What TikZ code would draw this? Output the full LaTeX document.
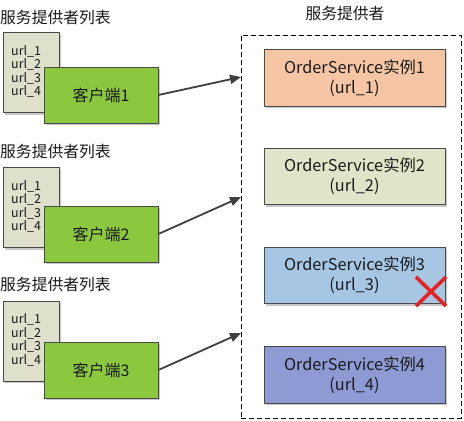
\documentclass[tikz,border=0pt]{standalone}
\usepackage{fontspec}
\setmainfont{Noto Sans CJK SC}
\usetikzlibrary{arrows.meta,shadows}
\definecolor{bordergray}{HTML}{4A4A4A}
\definecolor{listfill}{HTML}{DFE0CC}
\definecolor{clientgreen}{HTML}{8CC83E}
\definecolor{svcA}{HTML}{F6C6A4}
\definecolor{svcB}{HTML}{E0E4C8}
\definecolor{svcC}{HTML}{A6C6E4}
\definecolor{svcD}{HTML}{8E9AD4}
\definecolor{arrgray}{HTML}{3F3F3F}
\definecolor{xred}{HTML}{E42222}
\definecolor{txt}{HTML}{1A1A1A}
\begin{document}
\begin{tikzpicture}[x=1pt,y=-1pt,
  shadowed/.style={drop shadow={shadow xshift=2.2pt,shadow yshift=-2.2pt,opacity=0.22,fill=black}},
  lbl/.style={inner sep=0pt,text=txt,font=\fontsize{15.8}{18}\selectfont},
  listbox/.style={shadowed,draw=bordergray,fill=listfill,line width=0.8pt,minimum width=56pt,minimum height=80pt,inner sep=0pt},
  urltext/.style={inner sep=0pt,align=left,text=txt,font=\fontsize{12.5}{13.5}\selectfont},
  client/.style={shadowed,draw=bordergray,fill=clientgreen,line width=0.8pt,minimum width=114pt,minimum height=56pt,inner sep=0pt,text=txt,font=\fontsize{16}{18}\selectfont},
  svc/.style={shadowed,draw=bordergray,line width=0.8pt,minimum width=181pt,minimum height=56.5pt,inner sep=0pt,align=center,text=txt,font=\fontsize{16.3}{20}\selectfont},
  provbox/.style={draw=black,dashed,dash pattern=on 5pt off 3pt,line width=0.8pt,minimum width=220pt,minimum height=383pt,inner sep=0pt},
  arr/.style={draw=arrgray,line width=1.8pt,-{Triangle[length=11pt,width=9pt]}}
]
\useasboundingbox (0,0) rectangle (464,421);
\fill[white] (0,0) rectangle (464,421);

% provider side
\node[lbl] (ptitle) at (345,13) {服务提供者};
\node[provbox] (prov) at (351,226.5) {};
\node[svc,fill=svcA] (s1) at (354.5,78) {OrderService实例1\\(url\_1)};
\node[svc,fill=svcB] (s2) at (354.5,176.5) {OrderService实例2\\(url\_2)};
\node[svc,fill=svcC] (s3) at (354.5,275.5) {OrderService实例3\\(url\_3)};
\node[svc,fill=svcD] (s4) at (354.5,375) {OrderService实例4\\(url\_4)};
\draw[xred,line width=3.6pt] (416,277) -- (446,306) (446,277) -- (416,306);

% group 1
\node[lbl,anchor=west] (t1) at (0,18) {服务提供者列表};
\node[listbox] (l1) at (31,72.5) {};
\node[urltext,anchor=west] (u1) at (11,71.5) {url\_1\\url\_2\\url\_3\\url\_4};
\node[client] (c1) at (101,95) {客户端1};
% group 2
\node[lbl,anchor=west] (t2) at (0,152) {服务提供者列表};
\node[listbox] (l2) at (31,207.5) {};
\node[urltext,anchor=west] (u2) at (11,206.5) {url\_1\\url\_2\\url\_3\\url\_4};
\node[client] (c2) at (101,234) {客户端2};
% group 3
\node[lbl,anchor=west] (t3) at (0,285) {服务提供者列表};
\node[listbox] (l3) at (31,341) {};
\node[urltext,anchor=west] (u3) at (11,340) {url\_1\\url\_2\\url\_3\\url\_4};
\node[client] (c3) at (101,370) {客户端3};

% arrows
\coordinate (p1) at (241,77);
\coordinate (p2) at (241,197);
\coordinate (p3) at (241,333);
\draw[arr] (c1.east) -- (p1);
\draw[arr] (c2.east) -- (p2);
\draw[arr] (c3.east) -- (p3);
\end{tikzpicture}
\end{document}
